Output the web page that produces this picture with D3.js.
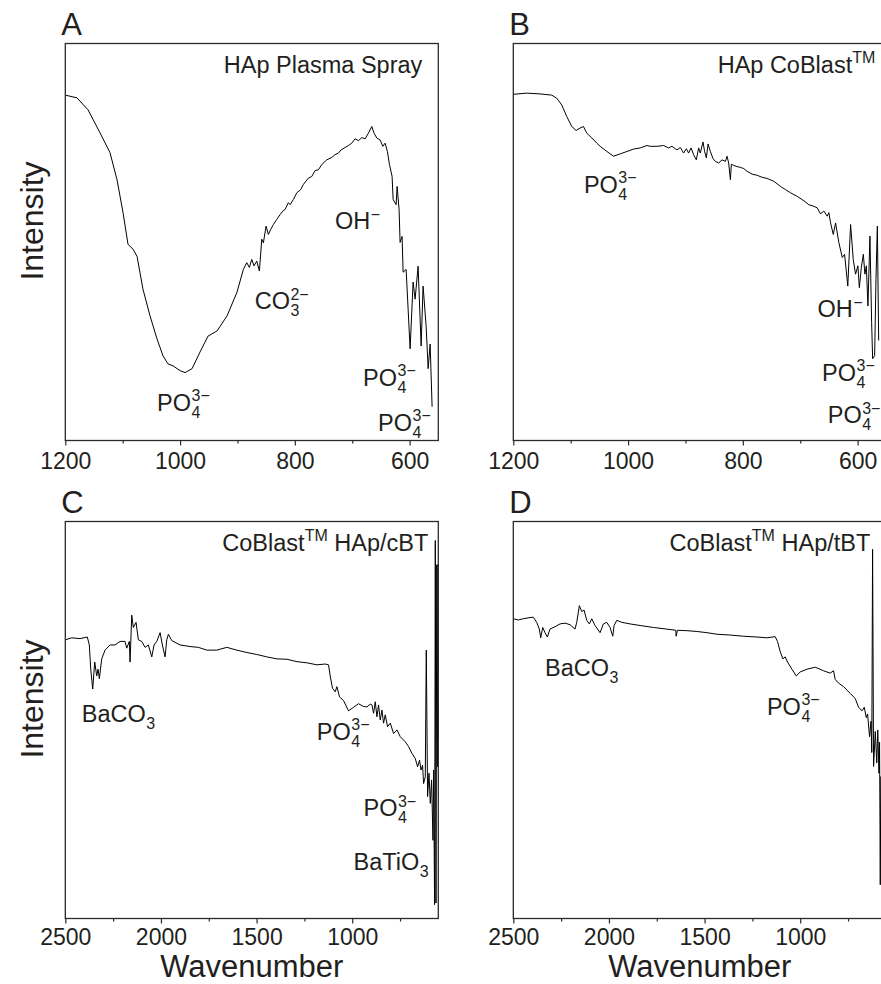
<!DOCTYPE html>
<html>
<head>
<meta charset="utf-8">
<script src="https://cdn.jsdelivr.net/npm/d3@7"></script>
<style>
  body { margin: 0; background: #fff; }
  text { font-family: "Liberation Sans", Arial, sans-serif; fill: #231f20; }
</style>
</head>
<body>
<svg id="chart"></svg>
<script>
// FTIR spectra, intensity in arbitrary units (0-100 of the frame height)
const waveA = [1200,1179.6,1160.4,1139.5,1122.1,1109.9,1099.4,1090.7,1082.0,1075.0,1064.6,1052.4,1040.2,1029.7,1021.0,1012.3,1000.0,991.3,979.1,965.2,951.2,935.5,918.1,900.7,889.7,883.8,879.3,875.1,871.1,866.4,861.8,857.6,854.8,850.1,846.1,841.9,837.4,831.5,825.7,821.0,817.0,811.3,808.3,802.5,796.6,789.7,785.1,776.4,770.5,764.7,759.0,753.0,744.3,735.6,729.9,724.1,719.4,712.4,706.7,700.7,695.0,689.2,683.3,677.5,671.8,665.9,661.9,657.2,651.4,646.7,642.7,638.7,635.2,630.5,628.7,623.5,621.8,618.3,616.6,613.1,611.3,606.1,602.6,599.1,593.9,590.4,585.2,579.9,576.5,571.2,567.7,564.2,560.8]
const intenA = [87.0,86.3,83.3,77.5,72.5,65.7,57.4,49.4,48.2,46.4,38.1,31.4,25.6,21.3,19.3,18.8,17.6,17.1,18.1,22.3,26.3,27.6,31.4,37.4,43.1,44.8,43.6,45.6,44.0,45.2,42.7,50.7,49.8,54.0,51.9,53.2,54.4,55.7,56.9,57.8,58.2,59.9,59.4,60.7,62.4,63.2,64.5,66.1,66.5,68.0,68.2,69.5,70.7,71.3,72.0,72.4,73.2,73.8,74.3,74.9,76.0,75.5,76.3,76.0,77.4,79.1,77.4,76.2,75.7,74.1,74.9,72.8,69.6,66.5,60.7,59.4,64.0,58.2,49.9,51.4,42.4,43.1,33.1,23.1,39.9,35.6,43.9,23.8,38.9,28.8,18.1,24.3,8.5]

const waveB = [1200,1176.6,1153.4,1133.0,1124.2,1115.5,1106.8,1098.1,1090.5,1083.6,1077.8,1071.9,1063.1,1054.4,1048.6,1036.9,1025.4,1013.7,1002.0,990.5,978.8,967.1,961.4,949.7,938.1,929.4,923.5,914.8,909.0,903.2,898.5,894.5,890.3,885.8,881.1,877.0,874.1,869.4,866.6,863.6,860.6,856.6,851.9,847.9,842.1,836.2,830.4,827.5,824.7,821.7,820.0,816.0,810.0,804.3,798.5,792.6,783.8,775.1,766.4,757.6,746.1,734.4,725.7,717.0,705.3,693.7,685.0,676.3,670.4,664.6,658.8,652.9,650.1,647.1,642.4,638.4,632.6,626.7,622.7,617.1,612.2,607.6,603.6,599.5,597.0,593.5,590.0,587.3,584.8,582.0,578.5,575.6,573.8,570.3,568.0,565.6,563.3]
const intenB = [87.2,87.5,87.3,87.0,86.2,84.5,81.6,79.1,78.1,78.7,79.1,77.4,76.2,74.9,74.1,72.8,71.6,72.2,72.8,73.4,73.7,74.3,74.1,74.1,74.3,73.7,74.1,73.2,73.8,72.4,73.5,72.4,73.7,72.0,70.7,73.7,72.4,75.2,72.8,71.2,74.7,72.8,71.0,70.3,69.9,70.7,70.3,71.6,69.9,65.7,69.6,69.3,69.0,68.8,68.5,67.8,67.1,66.8,66.3,66.0,65.3,64.0,63.2,62.4,61.5,60.4,59.4,59.0,58.6,57.1,57.8,56.5,57.4,54.8,51.9,54.8,49.8,46.1,46.9,38.9,54.4,45.6,41.9,44.0,38.5,43.6,46.9,41.9,44.0,33.9,51.5,29.8,20.6,21.4,40.6,54.0,25.2]

const waveC = [2500,2466.5,2423.1,2384.9,2374.4,2367.1,2356.6,2346.2,2335.7,2328.9,2322.1,2309.6,2292.3,2266.1,2240.0,2213.8,2187.7,2178.8,2165.2,2161.5,2152.6,2144.2,2130.1,2118.1,2100.3,2083.0,2065.7,2047.9,2035.9,2021.8,2004.5,1992.5,1978.4,1969.5,1961.1,1943.3,1899.9,1847.6,1804.1,1760.2,1707.9,1655.6,1603.2,1550.9,1498.6,1446.3,1393.9,1341.6,1289.3,1236.9,1184.6,1141.3,1124.0,1115.1,1103.1,1088.9,1080.0,1066.4,1045.5,1019.3,993.2,967.0,940.9,923.1,905.8,896.9,888.5,879.6,870.8,862.4,853.5,844.6,836.2,827.3,815.3,801.1,783.9,766.1,748.9,722.7,705.4,687.6,670.4,658.3,647.9,640.5,632.2,626.9,618.1,612.8,606.0,598.7,591.9,585.1,577.8,574.6,569.4,565.7,562.1,557.9,553.7,551.1,549.0]
const intenC = [70.2,70.7,70.5,70.9,68.9,62.8,57.8,64.6,61.1,62.8,60.4,65.4,67.6,68.9,68.9,69.8,69.8,68.1,69.8,64.6,76.4,73.3,74.6,70.2,69.8,68.3,68.9,65.9,68.9,69.8,72.0,68.9,65.9,70.2,71.6,70.0,68.9,68.5,68.3,67.6,67.6,68.3,67.6,67.0,66.5,65.9,65.4,65.3,64.7,64.4,63.9,64.1,63.9,61.1,58.0,57.1,58.4,55.8,54.9,52.3,53.2,54.1,53.4,53.3,54.0,53.8,51.7,54.6,50.8,53.8,50.0,52.5,49.2,51.3,48.3,49.2,46.6,47.5,45.8,44.5,43.3,41.6,40.3,38.2,39.9,37.4,38.6,34.0,35.7,67.6,30.7,36.6,29.0,34.9,19.7,37.4,3.5,95.2,3.9,89.1,38.2,89.2,45.0]

const waveD = [2500,2473.8,2447.7,2412.6,2395.4,2377.6,2364.0,2356.6,2346.2,2334.1,2322.1,2308.0,2281.8,2255.7,2229.5,2203.3,2177.2,2168.3,2154.7,2142.1,2130.1,2116.0,2102.4,2089.8,2072.5,2046.4,2029.1,2011.3,1994.1,1980.0,1973.1,1959.0,1932.8,1889.4,1837.1,1767.5,1697.4,1650.3,1648.7,1641.9,1592.8,1540.4,1488.1,1435.8,1366.2,1296.6,1226.5,1174.2,1130.8,1118.8,1104.6,1090.5,1078.5,1066.4,1043.4,1020.9,1000.0,964.9,921.5,878.1,843.0,825.8,816.9,799.6,773.4,738.4,712.2,694.9,677.2,665.1,654.7,647.9,637.4,630.1,625.9,621.7,616.5,607.6,599.8,594.6,588.3,585.2,581.5,578.9]
const intenD = [75.5,75.2,75.5,75.8,75.9,74.6,72.9,70.7,73.3,72.0,70.9,72.9,73.5,74.2,74.4,74.0,72.9,74.6,78.8,77.3,77.7,75.1,74.2,75.5,73.8,72.0,74.2,74.6,73.3,71.1,73.8,75.1,74.6,74.2,73.8,73.3,72.9,72.6,71.1,72.6,72.5,72.3,72.0,71.6,71.4,71.1,70.9,70.7,71.0,69.8,67.2,65.4,65.9,64.6,62.8,61.1,62.1,62.8,63.3,62.4,61.8,62.4,60.2,59.3,58.4,56.7,55.4,53.2,52.3,53.2,50.6,51.5,45.8,49.7,41.8,93.0,38.3,47.1,39.2,47.5,36.6,44.4,8.5,35.8]

// tick values
const ticksNarrow = [1200, 1000, 800, 600]
const minorNarrow = [1100, 900, 700]
const ticksWide = [2500, 2000, 1500, 1000]
const minorWide = [2250, 1750, 1250, 750]

// band assignments: [wavenumber, intensity, text, subscript, superscript]
const labelsA = [
  [1040, 7.5, 'PO', '4', '3\u2212'],
  [870, 33.1, 'CO', '3', '2\u2212'],
  [730, 53.2, 'OH', '', '\u2212'],
  [681, 13.8, 'PO', '4', '3\u2212'],
  [655, 2.5, 'PO', '4', '3\u2212']
]
const labelsB = [
  [1077, 62.4, 'PO', '4', '3\u2212'],
  [670, 31.1, 'OH', '', '\u2212'],
  [662, 15.0, 'PO', '4', '3\u2212'],
  [652, 4.3, 'PO', '4', '3\u2212']
]
const labelsC = [
  [2414, 49.5, 'BaCO', '3', ''],
  [1185, 45.0, 'PO', '4', '3\u2212'],
  [941, 25.8, 'PO', '4', '3\u2212'],
  [993, 12.2, 'BaTiO', '3', '']
]
const labelsD = [
  [2334, 61.1, 'BaCO', '3', ''],
  [1174, 51.3, 'PO', '4', '3\u2212']
]

const width = 881
const height = 984
const panelW = 373
const panelH = 397
const labelSize = 23.5
const smallSize = 16

const panels = [
  { letter: 'A', left: 65.3, top: 43.5, domain: [1200, 550], ticks: ticksNarrow, minor: minorNarrow, pad: 7,
    wave: waveA, inten: intenA, labels: labelsA, title: ['HAp Plasma Spray'], titleInset: 16, yLabel: true, xLabel: false },
  { letter: 'B', left: 513.3, top: 43.5, domain: [1200, 550], ticks: ticksNarrow, minor: minorNarrow, pad: 7,
    wave: waveB, inten: intenB, labels: labelsB, title: ['HAp CoBlast', 'TM'], titleInset: 11, yLabel: false, xLabel: false },
  { letter: 'C', left: 65.3, top: 521.5, domain: [2500, 550], ticks: ticksWide, minor: minorWide, pad: 5,
    wave: waveC, inten: intenC, labels: labelsC, title: ['CoBlast', 'TM', ' HAp/cBT'], titleInset: 10, yLabel: true, xLabel: true },
  { letter: 'D', left: 513.3, top: 521.5, domain: [2500, 550], ticks: ticksWide, minor: minorWide, pad: 5,
    wave: waveD, inten: intenD, labels: labelsD, title: ['CoBlast', 'TM', ' HAp/tBT'], titleInset: 16, yLabel: false, xLabel: true }
]

const svg = d3.select('#chart')
  .attr('width', width)
  .attr('height', height)

const ink = '#231f20'

panels.forEach(p => {
  const g = svg.append('g')
    .attr('transform', `translate(${p.left}, ${p.top})`)

  const x = d3.scaleLinear().domain(p.domain).range([0, panelW])
  const y = d3.scaleLinear().domain([0, 100]).range([panelH, 0])

  // spectrum
  const points = d3.zip(p.wave, p.inten)
  g.append('path')
    .datum(points)
    .attr('fill', 'none')
    .attr('stroke', '#000')
    .attr('stroke-width', 1)
    .attr('stroke-linejoin', 'round')
    .attr('d', d3.line().x(d => x(d[0])).y(d => y(d[1])))

  // frame
  g.append('rect')
    .attr('width', panelW)
    .attr('height', panelH)
    .attr('fill', 'none')
    .attr('stroke', '#2b2b2b')
    .attr('stroke-width', 1.3)

  // axes (ticks point outward)
  const xAxis = d3.axisBottom(x)
    .tickValues(p.ticks)
    .tickSize(5)
    .tickPadding(p.pad)
    .tickFormat(d3.format('d'))

  const axisG = g.append('g')
    .attr('transform', `translate(0, ${panelH})`)
    .call(xAxis)
  axisG.select('.domain').remove()
  axisG.selectAll('line').attr('stroke', '#2b2b2b').attr('stroke-width', 1.2)
  axisG.selectAll('text')
    .attr('font-size', 23)
    .attr('fill', ink)
    .style('font-family', '"Liberation Sans", Arial, sans-serif')

  const minorG = g.append('g')
    .attr('transform', `translate(0, ${panelH})`)
    .call(d3.axisBottom(x).tickValues(p.minor).tickSize(3).tickFormat(''))
  minorG.select('.domain').remove()
  minorG.selectAll('line').attr('stroke', '#2b2b2b').attr('stroke-width', 1.2)

  // panel letter
  svg.append('text')
    .attr('x', p.left - 4)
    .attr('y', p.top - 8.5)
    .attr('font-size', 31)
    .text(p.letter)

  // title, right aligned with TM superscript
  const title = g.append('text')
    .attr('x', panelW - p.titleInset)
    .attr('y', 29)
    .attr('text-anchor', 'end')
    .attr('font-size', labelSize)
  p.title.forEach((part, i) => {
    const isSup = part === 'TM'
    title.append('tspan')
      .attr('font-size', isSup ? smallSize : labelSize)
      .attr('dy', isSup ? -10 : (i > 0 ? 10 : 0))
      .text(part)
  })

  // band labels, sub- and superscript stacked after the main text
  p.labels.forEach(([wn, val, main, sub, sup]) => {
    const lx = x(wn)
    const ly = y(val)
    const t = g.append('text')
      .attr('x', lx)
      .attr('y', ly)
      .attr('font-size', labelSize)
    const mainSpan = t.append('tspan').text(main)
    const w = mainSpan.node().getComputedTextLength()
    if (sup) {
      t.append('tspan')
        .attr('x', lx + w + 0.5)
        .attr('y', ly - 9.5)
        .attr('font-size', smallSize)
        .text(sup)
    }
    if (sub) {
      t.append('tspan')
        .attr('x', lx + w + 0.5)
        .attr('y', ly + 7)
        .attr('font-size', smallSize)
        .text(sub)
    }
  })

  if (p.yLabel) {
    svg.append('text')
      .attr('transform', `translate(${p.left - 22}, ${p.top + panelH / 2 - 21}) rotate(-90)`)
      .attr('text-anchor', 'middle')
      .attr('font-size', 32)
      .text('Intensity')
  }

  if (p.xLabel) {
    svg.append('text')
      .attr('x', p.left + panelW / 2)
      .attr('y', 977.3)
      .attr('text-anchor', 'middle')
      .attr('font-size', 31)
      .text('Wavenumber')
  }
})
</script>
</body>
</html>
